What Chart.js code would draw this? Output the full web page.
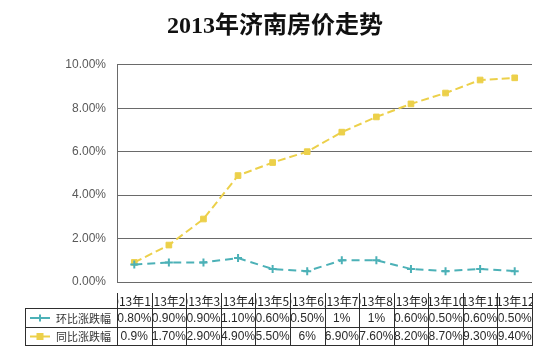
<!DOCTYPE html>
<html>
<head>
<meta charset="utf-8">
<script src="https://cdn.jsdelivr.net/npm/chart.js@4"></script>
<style>
html,body{margin:0;padding:0;background:#fff;}
#wrap{width:550px;height:353px;position:relative;}
</style>
</head>
<body>
<div id="wrap"><canvas id="c" width="550" height="353"></canvas></div>
<script>
const categories = ['2013年1月','2013年2月','2013年3月','2013年4月','2013年5月','2013年6月','2013年7月','2013年8月','2013年9月','2013年10月','2013年11月','2013年12月'];
const seriesNames = ['环比涨跌幅','同比涨跌幅'];
const huanbi = [0.8,0.9,0.9,1.1,0.6,0.5,1,1,0.6,0.5,0.6,0.5];
const tongbi = [0.9,1.7,2.9,4.9,5.5,6,6.9,7.6,8.2,8.7,9.3,9.4];
const huanbiLabels = ['0.80%','0.90%','0.90%','1.10%','0.60%','0.50%','1%','1%','0.60%','0.50%','0.60%','0.50%'];
const tongbiLabels = ['0.9%','1.70%','2.90%','4.90%','5.50%','6%','6.90%','7.60%','8.20%','8.70%','9.30%','9.40%'];
const yTicks = [0,2,4,6,8,10];

const TEAL = '#4cb1b7';
const YELLOW = '#ecd04a';
const GRID = '#6a6a6a';
const LINE = '#2e2e2e';
const CJK = '"Noto Sans CJK SC", "Liberation Sans", sans-serif';
const LAT = '"Liberation Sans", "Noto Sans CJK SC", sans-serif';

const tablePlugin = {
  id: 'dataTable',
  afterDraw(chart) {
    const ctx = chart.ctx;
    const x = chart.scales.x;
    const area = chart.chartArea;
    const n = categories.length;
    const w = (area.right - area.left) / n;
    const tLeft = 25, yHead = 293, r1 = 308, r2 = 327, r3 = 345;
    ctx.save();
    ctx.strokeStyle = LINE;
    ctx.lineWidth = 1;
    ctx.beginPath();
    for (let i = 0; i <= n; i++) {
      const px = Math.round(area.left + i * w) + 0.5;
      ctx.moveTo(px, yHead); ctx.lineTo(px, r3);
    }
    ctx.moveTo(tLeft + 0.5, r1); ctx.lineTo(tLeft + 0.5, r3);
    [r1, r2, r3].forEach(yy => { ctx.moveTo(tLeft, yy + 0.5); ctx.lineTo(Math.round(area.right) + 1, yy + 0.5); });
    ctx.stroke();

    ctx.textAlign = 'center';
    ctx.textBaseline = 'middle';
    const drawCell = (txt, i, top, bottom, font, color) => {
      const cx = x.getPixelForValue(i);
      const l = area.left + i * w;
      ctx.save();
      ctx.beginPath();
      ctx.rect(l + 1, top, w - 1, bottom - top);
      ctx.clip();
      ctx.font = font;
      ctx.fillStyle = color;
      ctx.fillText(txt, cx, (top + bottom) / 2 + 1);
      ctx.restore();
    };
    for (let i = 0; i < n; i++) {
      drawCell(categories[i], i, yHead, r1, '12px ' + CJK, '#222');
      drawCell(huanbiLabels[i], i, r1, r2, '12px ' + LAT, '#2a2a2a');
      drawCell(tongbiLabels[i], i, r2, r3, '12px ' + LAT, '#2a2a2a');
    }
    const rows = [[r1, r2, TEAL], [r2, r3, YELLOW]];
    rows.forEach((r, k) => {
      const cy = (r[0] + r[1]) / 2 + 0.5;
      ctx.strokeStyle = r[2];
      ctx.lineWidth = 2;
      ctx.beginPath(); ctx.moveTo(30, cy); ctx.lineTo(50, cy); ctx.stroke();
      if (k === 0) {
        ctx.beginPath(); ctx.moveTo(40, cy - 3.5); ctx.lineTo(40, cy + 3.5); ctx.stroke();
      } else {
        ctx.fillStyle = r[2];
        ctx.fillRect(36.5, cy - 3.5, 7, 7);
      }
      ctx.font = '11px ' + CJK;
      ctx.fillStyle = '#333';
      ctx.textAlign = 'left';
      ctx.fillText(seriesNames[k], 56, cy + 0.5);
    });
    ctx.restore();
  }
};

new Chart(document.getElementById('c'), {
  type: 'line',
  data: {
    labels: categories,
    datasets: [
      {
        label: seriesNames[0], data: huanbi,
        borderColor: TEAL, backgroundColor: TEAL, borderWidth: 2,
        borderDash: [8, 5], pointStyle: 'cross', pointRadius: 4,
        pointBorderWidth: 2, pointBorderColor: TEAL, tension: 0
      },
      {
        label: seriesNames[1], data: tongbi,
        borderColor: YELLOW, backgroundColor: YELLOW, borderWidth: 2,
        borderDash: [8, 4], pointStyle: 'rect', pointRadius: 4,
        pointBorderWidth: 1, pointBorderColor: YELLOW, tension: 0
      }
    ]
  },
  options: {
    responsive: false,
    animation: false,
    devicePixelRatio: 1,
    layout: { padding: { left: 18, right: 18, top: 0, bottom: 71 } },
    plugins: {
      legend: { display: false },
      tooltip: { enabled: false },
      title: {
        display: true,
        text: '2013年济南房价走势',
        color: '#111',
        font: { family: '"Liberation Serif", "Noto Sans CJK SC", serif', size: 24, weight: 'bold' },
        padding: { top: 12, bottom: 24 }
      }
    },
    scales: {
      x: {
        display: false,
        offset: true,
        grid: { display: false }
      },
      y: {
        min: 0, max: 10,
        afterBuildTicks(scale) { scale.ticks = yTicks.map(v => ({ value: v })); },
        afterFit(scale) { scale.width = 99; },
        ticks: {
          color: '#595959',
          font: { family: LAT, size: 12 },
          padding: 11,
          callback: v => v.toFixed(2) + '%'
        },
        grid: { color: GRID, lineWidth: 1, drawTicks: false },
        border: { display: true, color: GRID, width: 1 }
      }
    }
  },
  plugins: [tablePlugin]
});
</script>
</body>
</html>
